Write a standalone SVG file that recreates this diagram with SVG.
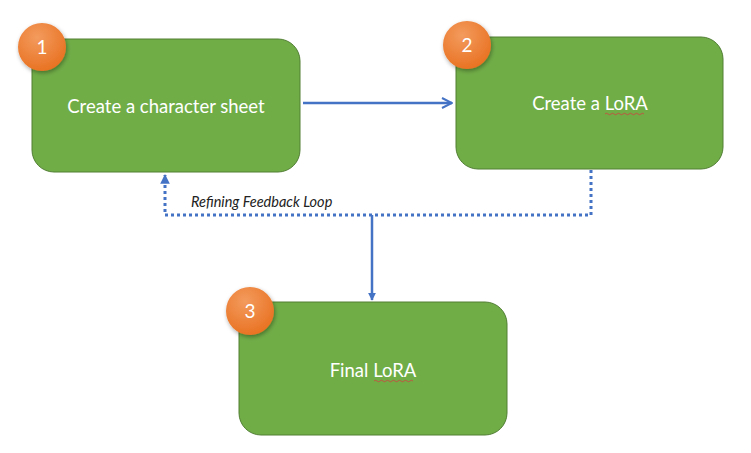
<svg xmlns="http://www.w3.org/2000/svg" width="751" height="453" viewBox="0 0 751 453">
<defs>
<style>
.box{fill:#70AD47;stroke:#507E32;stroke-width:1}
.lbl{fill:#fff;font-family:Lato,"Open Sans",sans-serif;font-size:18.5px;text-anchor:middle}
.num{fill:#fff;font-family:Lato,"Open Sans",sans-serif;font-size:19px;text-anchor:middle}
.badge{fill:url(#og);filter:url(#sh)}
.solid{stroke:#4472C4;stroke-width:2.5;fill:none}
.dot{stroke:#4472C4;stroke-width:3;fill:none;stroke-dasharray:3 3}
.sq{stroke:#D04040;stroke-width:0.8;fill:none}
</style>
<radialGradient id="og" cx="0.4" cy="0.3" r="0.75">
<stop offset="0" stop-color="#F39B5E"/>
<stop offset="1" stop-color="#E8701F"/>
</radialGradient>
<filter id="sh" x="-30%" y="-30%" width="170%" height="170%">
<feDropShadow dx="1" dy="2" stdDeviation="2" flood-color="#000" flood-opacity="0.35"/>
</filter>
<marker id="ah" viewBox="0 0 10 10" refX="9" refY="5" markerWidth="5" markerHeight="5" orient="auto" markerUnits="strokeWidth">
<path d="M1,1 L9,5 L1,9" fill="none" stroke="#4472C4" stroke-width="1.6"/>
</marker>
<marker id="tri" viewBox="0 0 10 10" refX="9" refY="5" markerWidth="3.2" markerHeight="3.2" orient="auto" markerUnits="strokeWidth">
<path d="M0,0 L10,5 L0,10 Z" fill="#4472C4"/>
</marker>
</defs>
<rect width="751" height="453" fill="#fff"/>
<g id="connectors">
<line class="solid" x1="303" y1="103" x2="452" y2="103" marker-end="url(#ah)"/>
<polyline class="dot" points="591,170 591,215 165,215 165,175" marker-end="url(#tri)"/>
<line class="solid" x1="372" y1="215" x2="372" y2="300" marker-end="url(#tri)"/>
<text x="191" y="207" font-family="Lato,'Open Sans',sans-serif" font-size="14.5" font-style="italic" fill="#222">Refining Feedback Loop</text>
</g>
<g id="node1">
<rect class="box" x="32" y="39" width="268" height="133" rx="22"/>
<text class="lbl" x="166" y="113">Create a character sheet</text>
<circle class="badge" cx="42" cy="47" r="24"/>
<text class="num" x="42" y="54">1</text>
</g>
<g id="node2">
<rect class="box" x="456" y="37" width="267" height="132" rx="22"/>
<text class="lbl" x="590" y="110">Create a LoRA</text>
<path class="sq" d="M605,114 q1.5,-1.5 3,0 t3,0 t3,0 t3,0 t3,0 t3,0 t3,0 t3,0 t3,0 t3,0 t3,0 t3,0 t3,0"/>
<circle class="badge" cx="467" cy="45" r="24"/>
<text class="num" x="467" y="52">2</text>
</g>
<g id="node3">
<rect class="box" x="239" y="302" width="268" height="133" rx="22"/>
<text class="lbl" x="373" y="377">Final LoRA</text>
<path class="sq" d="M374,381 q1.5,-1.5 3,0 t3,0 t3,0 t3,0 t3,0 t3,0 t3,0 t3,0 t3,0 t3,0 t3,0 t3,0 t3,0"/>
<circle class="badge" cx="250" cy="311" r="24"/>
<text class="num" x="250" y="318">3</text>
</g>
</svg>
